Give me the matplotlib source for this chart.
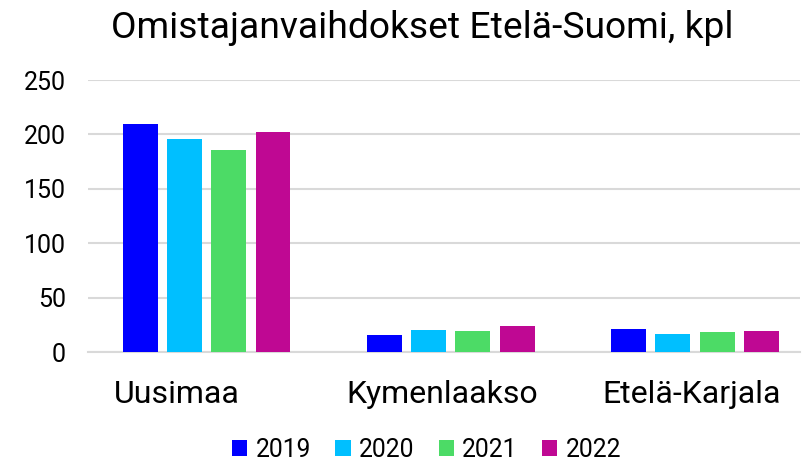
import matplotlib
matplotlib.use("Agg")
import matplotlib.pyplot as plt
import matplotlib.transforms as mtransforms
import numpy as np

categories = ["Uusimaa", "Kymenlaakso", "Etelä-Karjala"]
years = ["2019", "2020", "2021", "2022"]
values = {
    "2019": [210, 16, 21],
    "2020": [196, 20, 17],
    "2021": [186, 19, 18],
    "2022": [202, 24, 19],
}
colors = ["#0000ff", "#00bfff", "#4cdb66", "#bf0893"]
yticks = [0, 50, 100, 150, 200, 250]

plt.rcParams['font.family'] = ['Roboto', 'DejaVu Sans']

fig = plt.figure(figsize=(8.08, 4.61), dpi=100)
ax = fig.add_axes([88/808, 1-352/461, (800-88)/808, (352-80)/461])

x = np.arange(len(categories))
w = 0.143
step = 0.181
for i, (yr, c) in enumerate(zip(years, colors)):
    ax.bar(x + (i - 1.5) * step, values[yr], width=w, color=c, label=yr, zorder=3)

ax.set_ylim(0, 250)
ax.set_xlim(-0.486, 2.43)
ax.set_yticks(yticks)
ax.yaxis.grid(True, color="#d9d9d9", linewidth=1.5, zorder=0)
for s in ["top", "right", "left"]:
    ax.spines[s].set_visible(False)
ax.spines["bottom"].set_color("#d9d9d9")
ax.spines["bottom"].set_linewidth(1.5)
ax.tick_params(axis="both", length=0)
ax.tick_params(axis="y", labelsize=18, pad=16)
ax.set_xticks(x)
ax.set_xticklabels(categories, fontsize=23)
ax.tick_params(axis="x", pad=20)
shifts = [-30, -9, -3]
for lab, dx in zip(ax.get_xticklabels(), shifts):
    lab.set_transform(lab.get_transform() + mtransforms.ScaledTranslation(dx / 100, 0, fig.dpi_scale_trans))

fig.text(0.523, 0.939, "Omistajanvaihdokset Etelä-Suomi, kpl", ha="center", va="center", fontsize=26.8)

fig.legend(loc="center", bbox_to_anchor=(0.528, 0.024), ncol=4, frameon=False,
           fontsize=17.7, handlelength=0.62, handleheight=0.62, handletextpad=0.33,
           columnspacing=1.0)

fig.savefig("out.png", dpi=100)
